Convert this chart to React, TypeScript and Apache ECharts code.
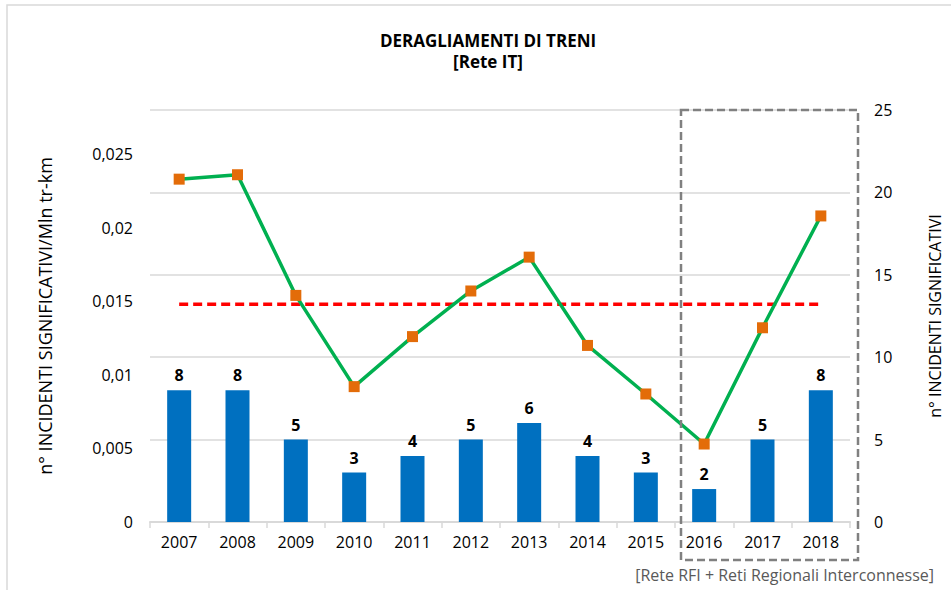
import React, { useEffect, useRef } from "react";
import * as echarts from "echarts";

const years = ["2007", "2008", "2009", "2010", "2011", "2012", "2013", "2014", "2015", "2016", "2017", "2018"];
const incidentCounts = [8, 8, 5, 3, 4, 5, 6, 4, 3, 2, 5, 8];
const ratePerMlnTrKm = [0.0233, 0.0236, 0.0154, 0.0092, 0.0126, 0.0157, 0.018, 0.012, 0.0087, 0.0053, 0.0132, 0.0208];
const referenceRate = [0.0148, 0.0148, 0.0148, 0.0148, 0.0148, 0.0148, 0.0148, 0.0148, 0.0148, 0.0148, 0.0148, 0.0148];

const FONT = "'Open Sans', Lato, sans-serif";

export default function App() {
  const ref = useRef<HTMLDivElement>(null);
  useEffect(() => {
    if (!ref.current) return;
    const chart = echarts.init(ref.current, null, { renderer: "svg" });
    const fmt = (v: number) => String(Number(v.toFixed(4))).replace(".", ",");
    chart.setOption({
      animation: false,
      textStyle: { fontFamily: FONT },
      grid: { left: 150, right: 99, top: 110, bottom: 68 },
      xAxis: {
        type: "category",
        data: years,
        axisLine: { lineStyle: { color: "#d9d9d9", width: 2 } },
        axisTick: { show: true, length: 6, lineStyle: { color: "#d9d9d9", width: 1.5 } },
        axisLabel: { fontSize: 16, color: "#000", margin: 12, fontFamily: FONT },
      },
      yAxis: [
        {
          type: "value",
          min: 0,
          max: 0.028,
          interval: 0.005,
          position: "left",
          splitLine: { show: false },
          axisLine: { show: false },
          axisTick: { show: false },
          axisLabel: { fontSize: 16, color: "#000", margin: 17, formatter: fmt, showMaxLabel: false, fontFamily: FONT },
          name: "n° INCIDENTI SIGNIFICATIVI/Mln tr-km",
          nameLocation: "middle",
          nameGap: 96,
          nameTextStyle: { fontSize: 18, color: "#000", fontFamily: FONT },
        },
        {
          type: "value",
          min: 0,
          max: 25,
          interval: 5,
          position: "right",
          splitLine: { show: true, lineStyle: { color: "#d9d9d9", width: 1.5 } },
          axisLine: { show: false },
          axisTick: { show: false },
          axisLabel: { fontSize: 16, color: "#000", margin: 24, fontFamily: FONT },
          name: "n° INCIDENTI SIGNIFICATIVI",
          nameLocation: "middle",
          nameGap: 77,
          nameTextStyle: { fontSize: 16, color: "#000", fontFamily: FONT },
        },
      ],
      series: [
        {
          type: "bar",
          yAxisIndex: 1,
          data: incidentCounts,
          barWidth: 24,
          itemStyle: { color: "#0070C0" },
          label: { show: true, position: "top", distance: 7, fontSize: 16, fontWeight: "bold", color: "#000", fontFamily: FONT },
          z: 1,
        },
        {
          type: "line",
          yAxisIndex: 0,
          data: referenceRate,
          symbol: "none",
          lineStyle: { color: "#FF0000", width: 3.5, type: [9, 5] },
          z: 2,
        },
        {
          type: "line",
          yAxisIndex: 0,
          data: ratePerMlnTrKm,
          symbol: "rect",
          symbolSize: 11,
          lineStyle: { color: "#00B050", width: 3.5 },
          itemStyle: { color: "#E36C09" },
          z: 3,
        },
      ],
      graphic: [
        {
          type: "rect",
          shape: { x: 7, y: 5, width: 1000, height: 1000 },
          style: { fill: "none", stroke: "#d9d9d9", lineWidth: 1.5 },
          silent: true,
        },
        {
          type: "rect",
          shape: { x: 681, y: 110, width: 177, height: 450 },
          style: { fill: "none", stroke: "#808080", lineWidth: 2.5, lineDash: [8, 4] },
          silent: true,
          z: 10,
        },
        {
          type: "text",
          x: 488,
          y: 30,
          style: {
            text: "DERAGLIAMENTI DI TRENI\n[Rete IT]",
            textAlign: "center",
            fontSize: 17,
            fontWeight: "bold",
            lineHeight: 21,
            fill: "#000",
            fontFamily: FONT,
          },
        },
        {
          type: "text",
          x: 934,
          y: 567,
          style: {
            text: "[Rete RFI + Reti Regionali Interconnesse]",
            textAlign: "right",
            fontSize: 16,
            fill: "#595959",
            fontFamily: FONT,
          },
        },
      ],
    });
    return () => chart.dispose();
  }, []);
  return <div ref={ref} style={{ position: "absolute", left: 0, top: 0, width: 951, height: 590 }} />;
}
